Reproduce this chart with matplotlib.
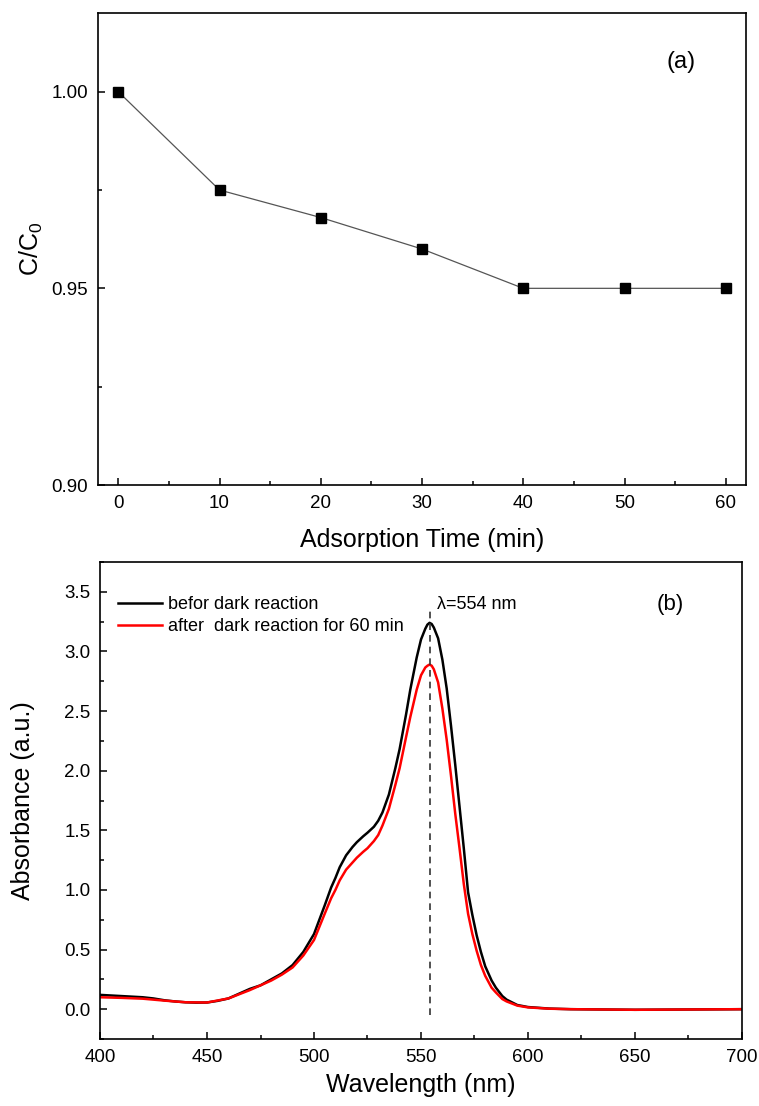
import matplotlib
matplotlib.use("Agg")
import matplotlib.pyplot as plt
from matplotlib.ticker import MultipleLocator, FormatStrFormatter

plt.rcParams['font.family'] = ['Liberation Sans', 'DejaVu Sans']
plt.rcParams['mathtext.default'] = 'regular'

# ---- panel (a) data ----
time_min = [0, 10, 20, 30, 40, 50, 60]
c_over_c0 = [1.000, 0.975, 0.968, 0.960, 0.950, 0.950, 0.950]

# ---- panel (b) data ----
wl_before = [400, 405, 410, 415, 420, 425, 430, 435, 440, 445, 450, 455, 460, 465,
             470, 475, 480, 485, 490, 495, 500, 505, 508, 510, 512, 515, 518, 520,
             523, 525, 528, 530, 532, 535, 538, 540, 543, 545, 548, 550, 552, 553,
             554, 555, 556, 558, 560, 562, 564, 566, 568, 570, 572, 574, 576, 578,
             580, 583, 585, 588, 590, 595, 600, 610, 620, 650, 700]
abs_before = [0.12, 0.115, 0.11, 0.105, 0.10, 0.09, 0.075, 0.065, 0.058, 0.055, 0.056,
              0.07, 0.09, 0.13, 0.17, 0.20, 0.25, 0.30, 0.37, 0.48, 0.63, 0.87, 1.02,
              1.10, 1.19, 1.29, 1.36, 1.40, 1.45, 1.48, 1.53, 1.58, 1.65, 1.80, 2.02,
              2.18, 2.47, 2.68, 2.95, 3.10, 3.19, 3.225, 3.24, 3.23, 3.20, 3.11, 2.93,
              2.69, 2.38, 2.05, 1.70, 1.35, 0.98, 0.79, 0.62, 0.48, 0.36, 0.24, 0.18,
              0.11, 0.08, 0.035, 0.018, 0.005, 0.0, -0.005, 0.0]
wl_after = [400, 410, 420, 430, 440, 450, 460, 470, 480, 485, 490, 495, 500, 505, 508,
            510, 512, 515, 518, 520, 523, 525, 528, 530, 532, 535, 538, 540, 543, 545,
            548, 550, 552, 553, 554, 555, 556, 558, 560, 562, 564, 566, 568, 570, 572,
            574, 576, 578, 580, 583, 585, 588, 590, 595, 600, 610, 620, 650, 700]
abs_after = [0.10, 0.095, 0.088, 0.072, 0.058, 0.056, 0.09, 0.16, 0.24, 0.29, 0.35,
             0.45, 0.58, 0.80, 0.93, 1.00, 1.08, 1.17, 1.23, 1.27, 1.32, 1.35, 1.41,
             1.46, 1.54, 1.68, 1.88, 2.02, 2.28, 2.45, 2.68, 2.80, 2.865, 2.88, 2.89,
             2.88, 2.85, 2.74, 2.52, 2.26, 1.96, 1.64, 1.35, 1.05, 0.80, 0.63, 0.49,
             0.37, 0.28, 0.18, 0.14, 0.085, 0.065, 0.03, 0.015, 0.004, 0.0, -0.005, 0.0]
peak_wl = 554
legend_labels = ['befor dark reaction', 'after  dark reaction for 60 min']

W, H = 759, 1106
fig = plt.figure(figsize=(W / 100, H / 100), dpi=100)
fig.patch.set_facecolor('white')

def frac(l, t, r, b):
    return [l / W, 1 - b / H, (r - l) / W, (b - t) / H]

ax1 = fig.add_axes(frac(98, 13, 746, 485))
ax2 = fig.add_axes(frac(100, 562, 742, 1039))

for ax in (ax1, ax2):
    for s in ax.spines.values():
        s.set_linewidth(1.2)
    ax.tick_params(which='both', direction='in', top=False, right=False,
                   labelsize=13.5, width=1.1)
    ax.tick_params(which='major', length=5, pad=7)
    ax.tick_params(which='minor', length=3)

# panel (a)
ax1.plot(time_min, c_over_c0, color='#555555', lw=0.9, marker='s',
         markersize=7.5, markerfacecolor='black', markeredgecolor='black')
ax1.set_xlim(-2, 62)
ax1.set_ylim(0.90, 1.02)
ax1.xaxis.set_major_locator(MultipleLocator(10))
ax1.xaxis.set_minor_locator(MultipleLocator(5))
ax1.yaxis.set_major_locator(MultipleLocator(0.05))
ax1.yaxis.set_minor_locator(MultipleLocator(0.025))
ax1.yaxis.set_major_formatter(FormatStrFormatter('%.2f'))
ax1.set_xlabel('Adsorption Time (min)', fontsize=18, labelpad=12)
ax1.set_ylabel('C/C$_0$', fontsize=18, labelpad=5)
ax1.text(55.6, 1.0075, '(a)', fontsize=17, ha='center', va='center')

# panel (b)
ax2.plot(wl_before, abs_before, color='black', lw=1.8, label=legend_labels[0])
ax2.plot(wl_after, abs_after, color='#ff0000', lw=1.8, label=legend_labels[1])
ax2.vlines(peak_wl, -0.05, 3.37, colors='#333333', linestyles=(0, (4, 3)), lw=1.2)
ax2.set_xlim(400, 700)
ax2.set_ylim(-0.25, 3.75)
ax2.xaxis.set_major_locator(MultipleLocator(50))
ax2.xaxis.set_minor_locator(MultipleLocator(25))
ax2.yaxis.set_major_locator(MultipleLocator(0.5))
ax2.yaxis.set_minor_locator(MultipleLocator(0.25))
ax2.yaxis.set_major_formatter(FormatStrFormatter('%.1f'))
ax2.set_xlabel('Wavelength (nm)', fontsize=18, labelpad=5)
ax2.set_ylabel('Absorbance (a.u.)', fontsize=18, labelpad=21)
ax2.text(557.5, 3.39, 'λ=554 nm', fontsize=13, ha='left', va='center')
ax2.text(666.5, 3.39, '(b)', fontsize=16, ha='center', va='center')
ax2.legend(loc='upper left', frameon=False, fontsize=13, handlelength=2.45,
           handletextpad=0.3, labelspacing=0.3, borderaxespad=0, borderpad=0,
           bbox_to_anchor=(0.028, 0.929))

fig.savefig('out.png', dpi=100, facecolor='white')
